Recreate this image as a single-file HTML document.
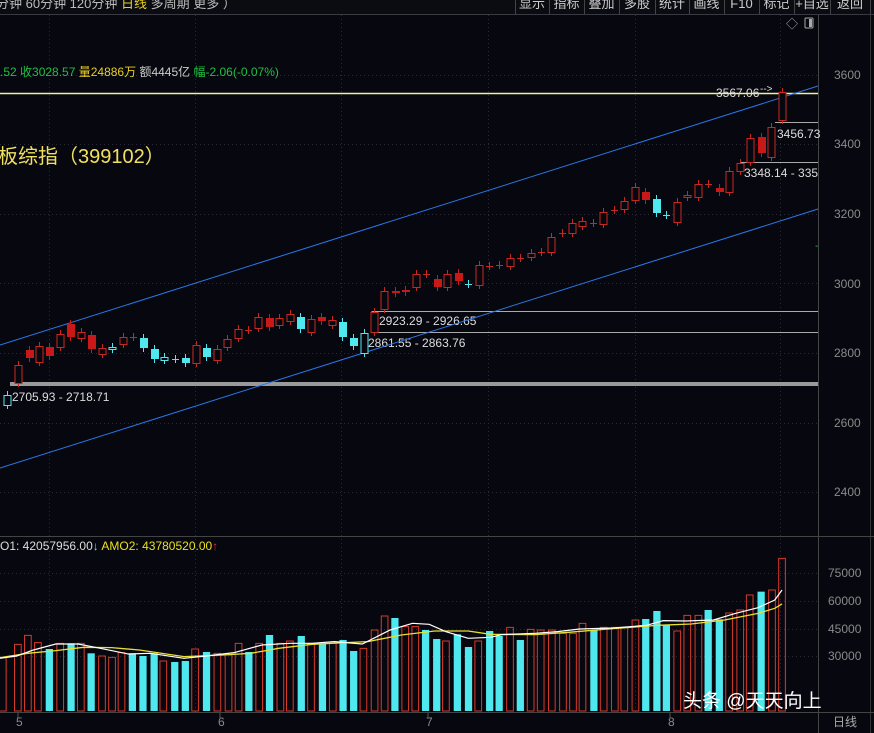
<!DOCTYPE html>
<html><head><meta charset="utf-8">
<style>
html,body{margin:0;padding:0;background:#07070f;width:874px;height:733px;overflow:hidden}
svg{display:block}
text{font-family:"Liberation Sans","Noto Sans CJK SC",sans-serif}
</style></head>
<body>
<svg id="s" width="874" height="733" xmlns="http://www.w3.org/2000/svg">
<rect width="874" height="733" fill="#07070f"/>
<rect x="0" y="0" width="874" height="14" fill="#0b0b12"/>
<line x1="0" y1="14.5" x2="874" y2="14.5" stroke="#3a3a44"/>
<text x="-4" y="8" font-size="13" fill="#bbb">分钟  60分钟  120分钟  <tspan fill="#e8d020">日线</tspan>  多周期  更多 ）</text>
<g id="btns" font-size="13" fill="#ccc"></g>
<g id="grid" stroke="#2a2a36" stroke-dasharray="1,3"></g>
<line x1="818.5" y1="15" x2="818.5" y2="733" stroke="#444"/>
<line x1="870.5" y1="15" x2="870.5" y2="733" stroke="#333"/>
<line x1="0" y1="536.5" x2="874" y2="536.5" stroke="#444"/>
<line x1="0" y1="712.5" x2="874" y2="712.5" stroke="#444"/>
<g font-size="12" fill="#8a8a8a">
<text x="834" y="79">3600</text><text x="834" y="148">3400</text><text x="834" y="218">3200</text>
<text x="834" y="288">3000</text><text x="834" y="357">2800</text><text x="834" y="427">2600</text>
<text x="834" y="496">2400</text>
<text x="828" y="577">75000</text><text x="828" y="605">60000</text><text x="828" y="633">45000</text><text x="828" y="660">30000</text>
<text x="833" y="726" fill="#aaa">日线</text>
<text x="16" y="726">5</text><text x="218" y="726">6</text><text x="426" y="726">7</text><text x="668" y="726">8</text>
</g>
<g stroke="#555"><line x1="18" y1="713" x2="18" y2="719"/><line x1="220" y1="713" x2="220" y2="719"/><line x1="428" y1="713" x2="428" y2="719"/><line x1="670" y1="713" x2="670" y2="719"/></g>
<text x="786" y="28" font-size="12" fill="#aaa">◇</text>
<rect x="805" y="18" width="8" height="10" fill="none" stroke="#aaa" rx="1"/>
<rect x="809" y="19" width="3" height="8" fill="#aaa"/>
<text x="0" y="76" font-size="12" fill="#20c040">.52 收3028.57 <tspan fill="#e8d020">量24886万</tspan> <tspan fill="#ccc">额4445亿</tspan> 幅-2.06(-0.07%)</text>
<text x="-2" y="163" font-size="20" fill="#f0e060">板综指（399102）</text>
<line x1="0" y1="93.5" x2="818" y2="93.5" stroke="#f0f0a0" stroke-width="1.5"/>
<rect x="10" y="382" width="808" height="4" fill="#9a9a9a"/>
<g stroke="#aaa" fill="none">
<polyline points="818,311.5 372,311.5 372,332"/>
<line x1="372" y1="332.5" x2="818" y2="332.5"/>
<line x1="775" y1="122.5" x2="818" y2="122.5"/>
<line x1="740" y1="162.5" x2="818" y2="162.5"/>
</g>
<g font-size="12" fill="#ddd">
<text x="12" y="401">2705.93 - 2718.71</text>
<text x="379" y="325">2923.29 - 2926.65</text>
<text x="368" y="347">2861.55 - 2863.76</text>
<text x="777" y="138">3456.73</text>
<text x="744" y="177">3348.14 - 335</text>
<text x="716" y="97">3567.06</text>
<text x="760" y="92" font-size="10">--&gt;</text>
</g>
<line x1="0" y1="345" x2="818" y2="86" stroke="#2a78e8" stroke-width="1"/>
<line x1="0" y1="468" x2="818" y2="209" stroke="#2a78e8" stroke-width="1"/>
<g id="candles"></g>
<g id="vol" transform="translate(0,530) scale(0.5574,0.3333)"></g>
<text x="815" y="249" font-size="10" fill="#20c040">-</text>
<text x="0" y="550" font-size="12" fill="#ddd">O1: 42057956.00<tspan fill="#4fe8ee">↓</tspan>  <tspan fill="#e8e020">AMO2: 43780520.00</tspan><tspan fill="#f03030">↑</tspan></text>
<text x="683" y="707" font-size="19" fill="#fff">头条 @天天向上</text>
</svg>
<script>
var NS="http://www.w3.org/2000/svg";
function el(p,t,a){var e=document.createElementNS(NS,t);for(var k in a)e.setAttribute(k,a[k]);p.appendChild(e);return e;}
var b=document.getElementById('btns');
var seps=[515,549,584,619,655,689,724,759,794,830,870],labs=["显示","指标","叠加","多股","统计","画线","F10","标记","+自选","返回"];
for(var i=0;i<seps.length;i++){el(b,'line',{x1:seps[i]+.5,y1:0,x2:seps[i]+.5,y2:14,stroke:'#444'});}
for(var i=0;i<labs.length;i++){var t=el(b,'text',{x:(seps[i]+seps[i+1])/2,y:8,'text-anchor':'middle'});t.textContent=labs[i];}
var g=document.getElementById('grid');
[75,144,214,283,353,423,492,573,601,629,656].forEach(function(y){el(g,'line',{x1:0,y1:y+.5,x2:818,y2:y+.5});});
[49,195,341,488,635,780].forEach(function(x){el(g,'line',{x1:x+.5,y1:15,x2:x+.5,y2:712});});
var C=[[7,395,405,'ch'],[18,365,383,'h'],[29,350,358,'f'],[39,346,362,'h'],[49,347,356,'f'],[60,334,347,'h'],[70,324,337,'f'],[81,332,338,'h'],[91,335,349,'f'],[102,348,354,'h'],[112,347,349,'ch'],[123,337,344,'h'],[133,337,337,'x'],[143,338,348,'c'],[154,349,359,'c'],[164,357,360,'ch'],[175,359,359,'cx'],[185,358,363,'c'],[196,345,363,'h'],[206,348,357,'c'],[217,349,360,'h'],[227,339,347,'h'],[238,329,338,'h'],[248,330,330,'x'],[258,317,328,'h'],[269,318,327,'f'],[279,318,325,'h'],[290,314,321,'h'],[300,317,329,'c'],[311,319,332,'h'],[321,317,321,'f'],[332,320,325,'h'],[342,322,337,'c'],[353,338,346,'c'],[364,333,353,'ch'],[374,312,332,'h'],[384,291,309,'h'],[395,291,293,'f'],[405,290,292,'f'],[416,274,287,'h'],[426,274,274,'x'],[437,279,287,'f'],[447,274,287,'h'],[458,273,281,'f'],[468,284,284,'cx'],[479,265,285,'h'],[489,266,266,'x'],[499,265,265,'x'],[510,258,266,'h'],[520,258,258,'x'],[531,253,257,'h'],[541,252,252,'x'],[551,237,252,'h'],[562,233,233,'x'],[572,223,233,'h'],[582,221,226,'h'],[593,223,223,'x'],[603,212,224,'h'],[614,210,210,'x'],[624,201,209,'h'],[635,187,200,'h'],[645,192,200,'f'],[656,199,213,'c'],[666,215,215,'cx'],[677,202,222,'h'],[687,195,197,'h'],[698,184,197,'h'],[708,184,184,'x'],[719,188,192,'f'],[729,171,192,'h'],[740,163,171,'h'],[750,138,162,'h'],[761,137,153,'f'],[771,127,157,'h'],[782,92,120,'h']];
var cg=document.getElementById('candles');
C.forEach(function(c){var x=c[0],t=c[1],bt=c[2],ty=c[3];var cy=ty[0]=='c',col=cy?'#4fe8ee':(ty=='f'?'#c81818':'#c8281f');
 el(cg,'line',{x1:x+.5,y1:t-4,x2:x+.5,y2:bt+4,stroke:col});
 if(ty=='x'||ty=='cx'){el(cg,'line',{x1:x-3,y1:t+.5,x2:x+4,y2:t+.5,stroke:col});return;}
 if(ty=='h'||ty=='ch'){el(cg,'rect',{x:x-3,y:t+.5,width:7,height:Math.max(bt-t,1),fill:'#07070f',stroke:col});}
 else el(cg,'rect',{x:x-3,y:t,width:8,height:Math.max(bt-t,2),fill:col});});
var V=[[5,383,'r'],[32,343,'r'],[50,316,'r'],[68,338,'r'],[88,357,'c'],[108,340,'r'],[127,340,'c'],[145,340,'r'],[163,370,'c'],[183,378,'r'],[201,382,'r'],[218,368,'r'],[237,370,'c'],[256,378,'c'],[276,370,'c'],[293,393,'r'],[313,396,'c'],[332,393,'c'],[350,357,'r'],[370,366,'c'],[390,370,'r'],[410,375,'r'],[428,340,'r'],[446,366,'c'],[465,340,'r'],[483,315,'c'],[503,340,'r'],[520,333,'r'],[540,318,'c'],[558,340,'r'],[578,340,'c'],[597,340,'r'],[615,330,'c'],[634,363,'c'],[652,355,'r'],[672,300,'r'],[690,258,'r'],[708,264,'c'],[727,290,'r'],[745,290,'r'],[763,300,'c'],[783,327,'c'],[800,333,'r'],[820,313,'c'],[840,351,'c'],[858,333,'r'],[878,303,'c'],[895,318,'c'],[915,292,'r'],[933,330,'c'],[952,298,'r'],[970,300,'r'],[990,300,'r'],[1010,310,'r'],[1028,310,'r'],[1045,280,'r'],[1065,300,'c'],[1083,292,'r'],[1103,292,'r'],[1120,292,'r'],[1140,270,'r'],[1158,267,'c'],[1178,243,'c'],[1195,286,'c'],[1215,303,'r'],[1233,256,'r'],[1253,256,'r'],[1270,240,'c'],[1290,268,'c'],[1308,249,'r'],[1328,240,'r'],[1345,195,'r'],[1365,185,'c'],[1385,180,'r'],[1403,85,'r']];
var vg=document.getElementById('vol');
V.forEach(function(v){var x=v[0]-6,t=v[1];if(v[2]=='c')el(vg,'rect',{x:x,y:t,width:13,height:543-t,fill:'#4fe8ee'});
 else el(vg,'rect',{x:x,y:t,width:12,height:543-t,fill:'none',stroke:'#d83a28','vector-effect':'non-scaling-stroke'});});
el(vg,'polyline',{points:"0,383 50,370 100,362 150,352 200,353 250,360 330,380 400,375 450,370 500,355 560,343 620,338 660,335 720,315 780,303 840,303 880,313 960,314 1020,307 1100,296 1180,286 1240,282 1300,270 1360,250 1390,235 1403,222",fill:'none',stroke:'#e8e030','stroke-width':1.3,'vector-effect':'non-scaling-stroke'});
el(vg,'polyline',{points:"0,385 30,378 60,360 100,342 140,342 180,355 230,372 270,370 330,385 370,378 420,368 470,345 520,340 560,340 600,335 650,342 700,300 740,280 770,283 800,305 840,325 880,322 900,314 960,310 1000,305 1040,297 1100,294 1160,286 1190,272 1230,273 1280,270 1320,250 1360,233 1390,210 1403,180",fill:'none',stroke:'#fff','stroke-width':1.2,'vector-effect':'non-scaling-stroke'});
</script>
</body></html>
